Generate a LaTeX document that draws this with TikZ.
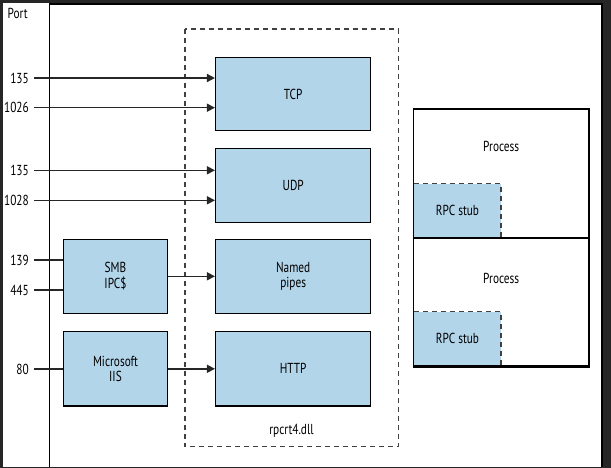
\documentclass[tikz,border=0pt]{standalone}
\usepackage{fontspec}
\setmainfont{PT Sans}[FakeStretch=0.78]
\usetikzlibrary{arrows.meta}
\definecolor{bgdark}{HTML}{262626}
\definecolor{boxblue}{HTML}{B3D5EA}
\definecolor{dashgray}{HTML}{404040}
\tikzset{
  every node/.style={font=\fontsize{14.5}{15.6}\selectfont, text=black},
  bluebox/.style={draw=black, line width=1.5pt, fill=boxblue, inner sep=0pt, align=center},
  procbox/.style={draw=black, line width=1.5pt, fill=white, inner sep=0pt},
  stubbox/.style={fill=boxblue, inner sep=0pt},
  portlbl/.style={anchor=east, inner xsep=5pt, inner ysep=0pt},
  conn/.style={line width=1.5pt, draw=black!85},
  arr/.style={conn, -{Triangle[length=8pt,width=8pt]}},
  dashline/.style={draw=dashgray, line width=1.1pt, dash pattern=on 5pt off 4pt},
}
\begin{document}
\begin{tikzpicture}[x=1pt, y=-1pt]
  \useasboundingbox (0,0) rectangle (611,468);
  \fill[bgdark] (0,0) rectangle (611,468);
  \fill[white] (3,3) rectangle (602,467);
  \draw[black, line width=1.5pt] (49.5,467) -- (49.5,4) -- (602,4) -- (602,467);

  % rpcrt4.dll dashed container
  \draw[dashline] (185,29) rectangle (398.3,446.7);
  \node (dll) at (291.5,431) {rpcrt4.dll};

  % Port header
  \node[anchor=west, inner sep=0pt] (porthdr) at (7.5,13) {Port};

  % rpcrt4 boxes
  \node[bluebox, minimum width=155pt, minimum height=73.4pt] (tcp) at (293.2,94) {TCP};
  \node[bluebox, minimum width=155pt, minimum height=74pt] (udp) at (293.2,185.3) {UDP};
  \node[bluebox, minimum width=155pt, minimum height=74pt] (pipes) at (293.2,276.3) {Named\\pipes};
  \node[bluebox, minimum width=155pt, minimum height=74.3pt] (http) at (293.2,368.8) {HTTP};

  % left boxes
  \node[bluebox, minimum width=104.4pt, minimum height=74pt] (smb) at (115.5,276.3) {SMB\\IPC\$};
  \node[bluebox, minimum width=104.4pt, minimum height=74.3pt] (iis) at (115.5,368.8) {Microsoft\\IIS};

  % port labels
  \node[portlbl] (p1) at (34,78) {135};
  \node[portlbl] (p2) at (34,107.7) {1026};
  \node[portlbl] (p3) at (34,170.3) {135};
  \node[portlbl] (p4) at (34,200.3) {1028};
  \node[portlbl] (p5) at (34,260) {139};
  \node[portlbl] (p6) at (34,290) {445};
  \node[portlbl] (p7) at (34,369) {80};

  % connectors
  \draw[arr] (p1.east) -- (tcp.west |- p1.east);
  \draw[arr] (p2.east) -- (tcp.west |- p2.east);
  \draw[arr] (p3.east) -- (udp.west |- p3.east);
  \draw[arr] (p4.east) -- (udp.west |- p4.east);
  \draw[conn] (p5.east) -- (smb.west |- p5.east);
  \draw[conn] (p6.east) -- (smb.west |- p6.east);
  \draw[conn] (p7.east) -- (iis.west |- p7.east);
  \draw[arr] (smb.east) -- (pipes.west);
  \draw[arr] (iis.east) -- (http.west);

  % processes
  \node[procbox, minimum width=175.7pt, minimum height=128.7pt] (proc1) at (501.2,173.3) {};
  \node[procbox, minimum width=175.7pt, minimum height=128.3pt] (proc2) at (501.2,301.9) {};
  \node (proc1lbl) at (501.2,146) {Process};
  \node (proc2lbl) at (501.2,278) {Process};
  \fill[boxblue] (414,184) rectangle (501,237);
  \fill[boxblue] (414,312.3) rectangle (501,365.3);
  \draw[dashline] (414,183.7) -- (501,183.7) -- (501,237.7);
  \draw[dashline] (414,311.9) -- (501,311.9) -- (501,366);
  \draw[black, line width=1.5pt] (413.3,109) -- (413.3,366);
  \draw[black, line width=1.5pt] (proc1.south west) -- (proc1.south east);
  \draw[black, line width=1.5pt] (proc2.south west) -- (proc2.south east);
  \node (stub1) at (457.5,210.5) {RPC stub};
  \node (stub2) at (457.5,338.5) {RPC stub};
\end{tikzpicture}
\end{document}
